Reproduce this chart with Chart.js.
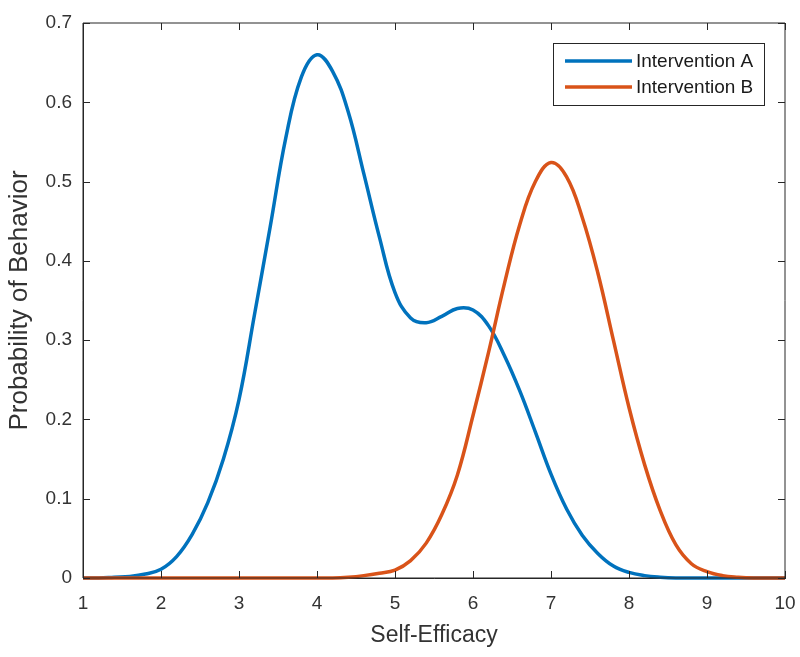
<!DOCTYPE html>
<html>
<head>
<meta charset="utf-8">
<title>Self-Efficacy</title>
<script src="https://cdn.jsdelivr.net/npm/chart.js@4.4.1/dist/chart.umd.min.js"></script>
<style>
    html, body { margin: 0; padding: 0; background: #fff; }
    #wrap { width: 800px; height: 657px; }
</style>
</head>
<body>
<div id="wrap"><canvas id="grafica"></canvas></div>
<script>
// valores
const selfEfficacy = [1.0, 1.2, 1.4, 1.6, 1.8, 2.0, 2.2, 2.4, 2.6, 2.8, 3.0, 3.2, 3.4, 3.6, 3.8, 4.0,
    4.2, 4.4, 4.6, 4.8, 5.0, 5.2, 5.4, 5.6, 5.8, 6.0, 6.2, 6.4, 6.6, 6.8, 7.0, 7.2, 7.4, 7.6,
    7.8, 8.0, 8.2, 8.4, 8.6, 8.8, 9.0, 9.2, 9.4, 9.6, 9.8, 10.0];
const interventionA = [0.000, 0.000, 0.001, 0.002, 0.005, 0.011, 0.027, 0.055, 0.095, 0.150, 0.225, 0.333,
    0.443, 0.555, 0.632, 0.660, 0.639, 0.588, 0.510, 0.430, 0.360, 0.328, 0.322, 0.330, 0.340, 0.338,
    0.318, 0.281, 0.236, 0.184, 0.131, 0.087, 0.054, 0.031, 0.015, 0.007, 0.003, 0.001, 0.000, 0.000,
    0.000, 0.000, 0.000, 0.000, 0.000, 0.000];
const interventionB = [0.000, 0.000, 0.000, 0.000, 0.000, 0.000, 0.000, 0.000, 0.000, 0.000, 0.000, 0.000,
    0.000, 0.000, 0.000, 0.000, 0.000, 0.001, 0.003, 0.006, 0.010, 0.022, 0.044, 0.080, 0.130, 0.205,
    0.285, 0.370, 0.446, 0.500, 0.524, 0.506, 0.455, 0.385, 0.300, 0.215, 0.143, 0.085, 0.042, 0.018,
    0.008, 0.003, 0.001, 0.000, 0.000, 0.000];
const seriesNames = ['Intervention A', 'Intervention B'];
const xTicks = [1, 2, 3, 4, 5, 6, 7, 8, 9, 10];
const yTicks = [0, 0.1, 0.2, 0.3, 0.4, 0.5, 0.6, 0.7];

const azul = 'rgb(0, 114, 189)';
const naranja = 'rgb(217, 83, 25)';
const ejeColor = '#262626';
const fuente = "'Liberation Sans', Arial, Helvetica, sans-serif";

const toPoints = (xs, ys) => xs.map((x, i) => ({ x: x, y: ys[i] }));

// caja, marcas hacia adentro y leyenda al estilo MATLAB
const cajaPlugin = {
    id: 'caja',
    afterDatasetsDraw(chart) {
        const { ctx, chartArea, scales } = chart;
        const { left, right, top, bottom } = chartArea;
        const largo = 7;
        ctx.save();
        ctx.strokeStyle = ejeColor;
        ctx.lineWidth = 1;
        ctx.beginPath();
        ctx.rect(left, top, right - left, bottom - top);
        xTicks.forEach(v => {
            const px = Math.round(scales.x.getPixelForValue(v)) + 0.5;
            ctx.moveTo(px, bottom);
            ctx.lineTo(px, bottom - largo);
            ctx.moveTo(px, top);
            ctx.lineTo(px, top + largo);
        });
        yTicks.forEach(v => {
            const py = Math.round(scales.y.getPixelForValue(v)) + 0.5;
            ctx.moveTo(left, py);
            ctx.lineTo(left + largo, py);
            ctx.moveTo(right, py);
            ctx.lineTo(right - largo, py);
        });
        ctx.stroke();

        // leyenda
        const lx = right - 232, ly = top + 20, lw = 211, lh = 62;
        ctx.fillStyle = '#fff';
        ctx.fillRect(lx, ly, lw, lh);
        ctx.strokeRect(lx + 0.5, ly + 0.5, lw, lh);
        const colores = [azul, naranja];
        seriesNames.forEach((nombre, i) => {
            const y = ly + 18 + i * 26;
            ctx.strokeStyle = colores[i];
            ctx.lineWidth = 3.5;
            ctx.beginPath();
            ctx.moveTo(lx + 12, y);
            ctx.lineTo(lx + 79, y);
            ctx.stroke();
            ctx.fillStyle = '#1a1a1a';
            ctx.font = '19px ' + fuente;
            ctx.textBaseline = 'middle';
            ctx.fillText(nombre, lx + 83, y + 1);
        });
        ctx.restore();
    }
};

new Chart(document.getElementById('grafica'), {
    type: 'line',
    data: {
        datasets: [
            {
                label: seriesNames[0],
                data: toPoints(selfEfficacy, interventionA),
                borderColor: azul,
                borderWidth: 3.5,
                pointRadius: 0,
                tension: 0.4,
                fill: false,
                clip: 6,
                order: 1
            },
            {
                label: seriesNames[1],
                data: toPoints(selfEfficacy, interventionB),
                borderColor: naranja,
                borderWidth: 3.5,
                pointRadius: 0,
                tension: 0.4,
                fill: false,
                clip: 6,
                order: 0
            }
        ]
    },
    options: {
        responsive: true,
        maintainAspectRatio: false,
        animation: false,
        layout: { padding: { top: 23, right: 15, left: 0, bottom: 0 } },
        plugins: {
            legend: { display: false },
            tooltip: { enabled: false }
        },
        scales: {
            x: {
                type: 'linear',
                min: 1,
                max: 10,
                afterBuildTicks: s => { s.ticks = xTicks.map(v => ({ value: v })); },
                afterFit: s => { s.height = 79; s.paddingRight = 0; },
                grid: { display: false, drawTicks: false },
                border: { display: true, color: ejeColor, width: 1 },
                ticks: {
                    color: '#333',
                    padding: 14,
                    maxRotation: 0,
                    font: { family: fuente, size: 19 }
                },
                title: {
                    display: true,
                    text: 'Self-Efficacy',
                    color: '#333',
                    font: { family: fuente, size: 23 },
                    padding: { top: 0, bottom: 8 }
                }
            },
            y: {
                min: 0,
                max: 0.7,
                afterBuildTicks: s => { s.ticks = yTicks.map(v => ({ value: v })); },
                afterFit: s => { s.width = 83; },
                grid: { display: false, drawTicks: false },
                border: { display: true, color: ejeColor, width: 1 },
                ticks: {
                    color: '#333',
                    padding: 11,
                    font: { family: fuente, size: 19 },
                    callback: v => v === 0 ? '0' : v.toFixed(1)
                },
                title: {
                    display: true,
                    text: 'Probability of Behavior',
                    color: '#333',
                    font: { family: fuente, size: 26 },
                    padding: { top: 4, bottom: 0 }
                }
            }
        }
    },
    plugins: [cajaPlugin]
});
</script>
</body>
</html>
